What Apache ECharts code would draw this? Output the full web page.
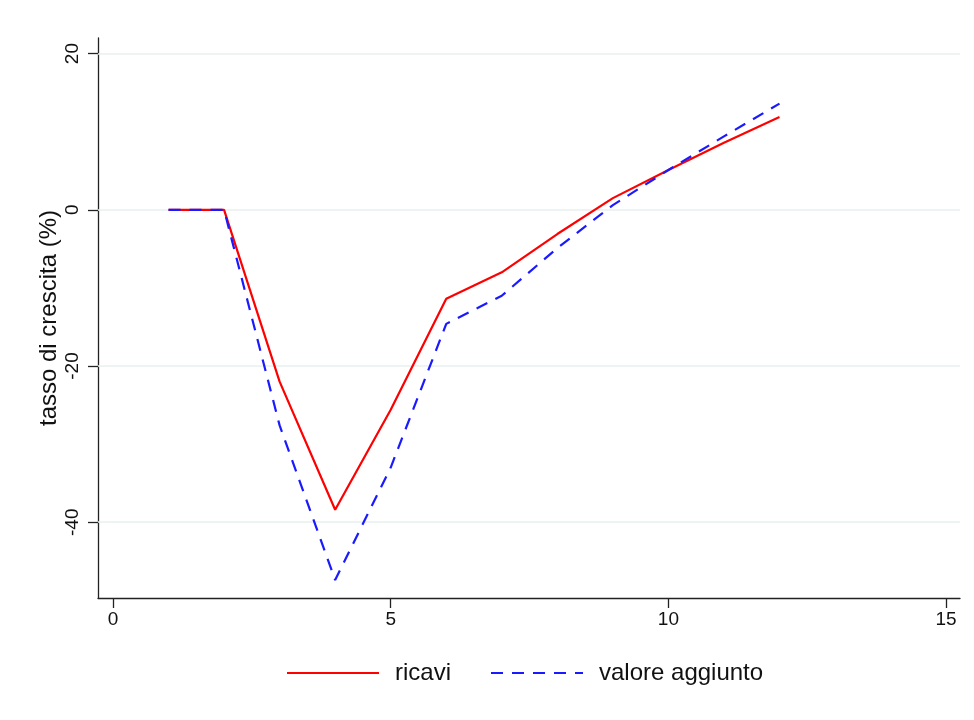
<!DOCTYPE html>
<html>
<head>
<meta charset="utf-8">
<script src="https://cdn.jsdelivr.net/npm/echarts@6/dist/echarts.min.js"></script>
<style>html,body{margin:0;padding:0;background:#fff}#c{width:974px;height:720px}</style>
</head>
<body>
<div id="c"></div>
<script>
const xValues = [1, 2, 3, 4, 5, 6, 7, 8, 9, 10, 11, 12];
const ricavi = [0, 0, -22.0, -38.4, -25.6, -11.4, -8.0, -3.1, 1.5, 5.1, 8.6, 11.9];
const valoreAggiunto = [0, 0, -27.6, -47.4, -33.0, -14.6, -11.0, -4.9, 0.6, 5.1, 9.4, 13.6];
const xTicks = [0, 5, 10, 15];
const yTicks = [-40, -20, 0, 20];
const seriesNames = ['ricavi', 'valore aggiunto'];

const font = 'Liberation Sans, Arial, Helvetica, sans-serif';
const pairs = (ys) => xValues.map((x, i) => [x, ys[i]]);

const chart = echarts.init(document.getElementById('c'), null, {renderer: 'canvas'});
chart.setOption({
  backgroundColor: '#ffffff',
  animation: false,
  grid: {left: 98, right: 14, top: 38, bottom: 122, containLabel: false},
  xAxis: {
    type: 'value', min: -0.27, max: 15.25,
    axisLine: {show: true, onZero: false, lineStyle: {color: '#222', width: 1.3}},
    axisTick: {show: true, length: 10, customValues: xTicks, lineStyle: {color: '#222', width: 1.3}},
    axisLabel: {customValues: xTicks, color: '#111', fontSize: 19, fontFamily: font, margin: 12},
    splitLine: {show: false}
  },
  yAxis: {
    type: 'value', min: -49.7, max: 22,
    name: 'tasso di crescita (%)', nameLocation: 'middle', nameGap: 37, nameRotate: 90,
    nameMoveOverlap: false,
    nameTextStyle: {color: '#111', fontSize: 24, fontFamily: font},
    axisLine: {show: true, onZero: false, lineStyle: {color: '#222', width: 1.3}},
    axisTick: {show: true, length: 10, customValues: yTicks, lineStyle: {color: '#222', width: 1.3}},
    axisLabel: {customValues: yTicks, rotate: 90, color: '#111', fontSize: 19, fontFamily: font, margin: 16},
    splitLine: {show: false}
  },
  legend: {
    bottom: 30, left: 281,
    itemWidth: 92, itemHeight: 14, itemGap: 39,
    itemStyle: {opacity: 0},
    textStyle: {fontSize: 24, fontFamily: font, color: '#111', padding: [0, 0, 0, 11]},
    data: seriesNames
  },
  series: [
    {
      name: seriesNames[0], type: 'line', data: pairs(ricavi), symbol: 'none', z: 3,
      lineStyle: {color: '#ff0000', width: 2.2}, itemStyle: {color: '#ff0000'},
      markLine: {
        silent: true, symbol: 'none', label: {show: false},
        lineStyle: {color: '#e8eff1', width: 1.5, type: 'solid'},
        data: yTicks.map(v => ({yAxis: v})), z: 1
      }
    },
    {
      name: seriesNames[1], type: 'line', data: pairs(valoreAggiunto), symbol: 'none', z: 4,
      lineStyle: {color: '#1a1aff', width: 2.2, type: [12, 9]}, itemStyle: {color: '#1a1aff'}
    }
  ]
});
</script>
</body>
</html>
